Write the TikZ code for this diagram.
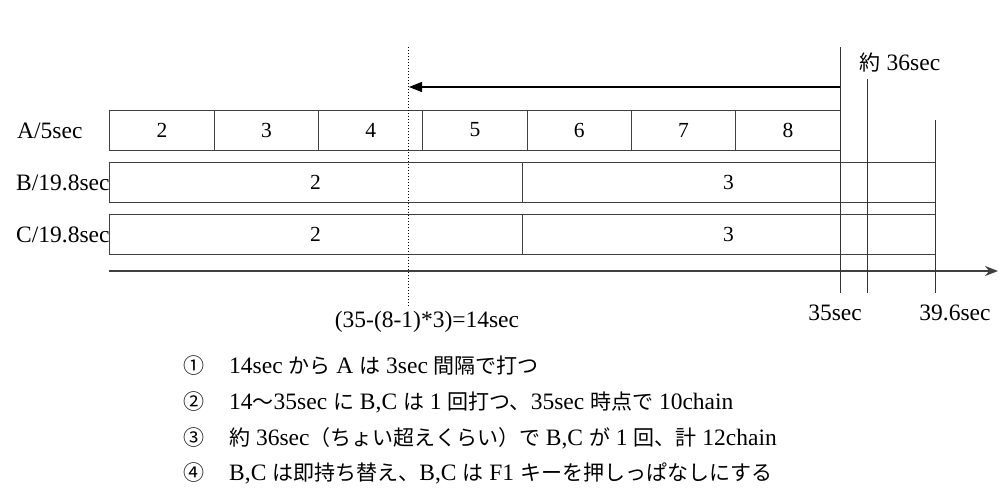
\documentclass[tikz,border=0pt]{standalone}
\usepackage{fontspec}
\setmainfont{Liberation Serif}
\newfontfamily\jpfont{Noto Sans CJK JP}[Scale=0.894]
\newcommand{\jp}[1]{{\jpfont #1}}
\usetikzlibrary{arrows.meta}

\begin{document}
\begin{tikzpicture}[%
      x=1pt, y=-1pt,
      every node/.style={font=\fontsize{23.5}{28}\selectfont},
      cell/.style={draw=black!75, line width=1pt, minimum height=40pt, inner sep=0pt,
                   font=\fontsize{21.5}{26}\selectfont},
      lbl/.style={anchor=west, inner sep=0pt},
      note/.style={anchor=base west, inner sep=0pt},
      ]
      \useasboundingbox (0,0) rectangle (1001,496);

      % row A
      \node [cell, minimum width=104.3pt] (a2) at (162.1,130) {2};
      \node [cell, minimum width=104.3pt] (a3) at (266.4,130) {3};
      \node [cell, minimum width=104.3pt] (a4) at (370.7,130) {4};
      \node [cell, minimum width=104.3pt] (a5) at (475.0,130) {5};
      \node [cell, minimum width=104.3pt] (a6) at (579.3,130) {6};
      \node [cell, minimum width=104.3pt] (a7) at (683.6,130) {7};
      \node [cell, minimum width=104.3pt] (a8) at (787.9,130) {8};

      % rows B and C
      \node [cell, minimum width=413pt] (b2) at (315.5,182) {2};
      \node [cell, minimum width=413pt] (b3) at (728.5,182) {3};
      \node [cell, minimum width=413pt] (c2) at (315.5,234) {2};
      \node [cell, minimum width=413pt] (c3) at (728.5,234) {3};

      \node [lbl] (la) at (17,131) {A/5sec};
      \node [lbl] (lb) at (16,183) {B/19.8sec};
      \node [lbl] (lc) at (16,235) {C/19.8sec};

      % time axis
      \coordinate (axisstart) at (109,271);
      \coordinate (axisend) at (998,271);
      \draw [color=black!75, line width=2pt, -{Stealth[length=13pt,width=10pt]}] (axisstart) -- (axisend);

      % 14sec
      \coordinate (dottop) at (408,47);
      \coordinate (dotbot) at (408,306);
      \draw [color=black, line width=1pt, dotted] (dottop) -- (dotbot);
      \node (f14) at (427,322) {(35-(8-1)*3)=14sec};

      % 35sec, 36sec, 39.6sec
      \coordinate (top35) at (840,47);
      \coordinate (bot35) at (840,293);
      \coordinate (top36) at (867,79);
      \coordinate (bot36) at (867,293);
      \coordinate (top396) at (935,120);
      \coordinate (bot396) at (935,293);
      \draw [color=black!80, line width=1pt] (top35) -- (bot35);
      \draw [color=black!80, line width=1pt] (top36) -- (bot36);
      \draw [color=black!80, line width=1pt] (top396) -- (bot396);
      \node (t35) at (835,313) {35sec};
      \node (t396) at (955,313) {39.6sec};
      \node (t36) at (900,63) {\jp{約} 36sec};

      \coordinate (arrowstart) at (840,87);
      \coordinate (arrowend) at (409,87);
      \draw [color=black, line width=1.2pt, -{Triangle[length=13pt,width=10pt]}] (arrowstart) -- (arrowend);

      % notes
      \node [inner sep=0pt] (c1) at (194,366) {\jp{①}};
      \node [inner sep=0pt] (c2) at (194,402) {\jp{②}};
      \node [inner sep=0pt] (c3) at (194,438) {\jp{③}};
      \node [inner sep=0pt] (c4) at (194,473) {\jp{④}};
      \node [note] (n1) at (229,373) {14sec \jp{から} A \jp{は} 3sec \jp{間隔で打つ}};
      \node [note] (n2) at (229,409) {14\jp{～}35sec \jp{に} B,C \jp{は} 1 \jp{回打つ、}35sec \jp{時点で} 10chain};
      \node [note] (n3) at (229,445) {\jp{約} 36sec\jp{（ちょい超えくらい）で} B,C \jp{が} 1 \jp{回、計} 12chain};
      \node [note] (n4) at (229,480) {B,C \jp{は即持ち替え、}B,C \jp{は} F1 \jp{キーを押しっぱなしにする}};
\end{tikzpicture}
\end{document}
